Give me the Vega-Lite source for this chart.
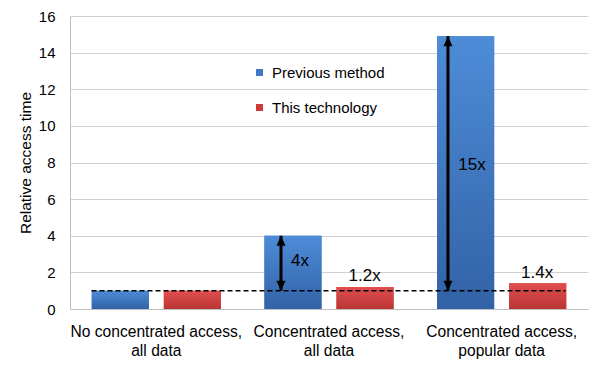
{
  "$schema": "https://vega.github.io/schema/vega-lite/v6.json",
  "width": 518,
  "height": 293,
  "autosize": "none",
  "padding": {"left": 70, "top": 16, "right": 12, "bottom": 71},
  "background": "white",
  "config": {"font": "Liberation Sans", "view": {"stroke": null}},
  "datasets": {
    "bars": [
      {"group": "No concentrated access,|all data", "series": "Previous method", "value": 1},
      {"group": "No concentrated access,|all data", "series": "This technology", "value": 1},
      {"group": "Concentrated access,|all data", "series": "Previous method", "value": 4},
      {"group": "Concentrated access,|all data", "series": "This technology", "value": 1.2},
      {"group": "Concentrated access,|popular data", "series": "Previous method", "value": 14.9},
      {"group": "Concentrated access,|popular data", "series": "This technology", "value": 1.4}
    ],
    "arrows": [
      {"pos": 1.222, "base": 1, "top": 4},
      {"pos": 2.189, "base": 1, "top": 14.9}
    ],
    "labels": [
      {"pos": 1.332, "y": 2.62, "text": "4x"},
      {"pos": 1.706, "y": 1.8, "text": "1.2x"},
      {"pos": 2.328, "y": 7.86, "text": "15x"},
      {"pos": 2.705, "y": 1.94, "text": "1.4x"}
    ],
    "baseline": [
      {"start": 0.1245, "end": 2.87, "y": 1}
    ]
  },
  "layer": [
    {
      "data": {"name": "bars"},
      "encoding": {
        "x": {
          "field": "group", "type": "nominal", "sort": null,
          "scale": {"paddingInner": 0.252, "paddingOuter": 0.126},
          "axis": {
            "title": null, "labelAngle": 0, "labelExpr": "split(datum.label, '|')",
            "labelFontSize": 15.6, "labelColor": "#000000", "labelPadding": 15,
            "labelLineHeight": 19, "labelLimit": 0, "ticks": false,
            "domainColor": "#BFBFBF", "labelBaseline": "top"
          }
        },
        "xOffset": {"field": "series", "type": "nominal", "scale": {"paddingInner": 0.208, "paddingOuter": 0}},
        "y": {
          "field": "value", "type": "quantitative",
          "scale": {"domain": [0, 16], "nice": false},
          "axis": {
            "title": "Relative access time", "titleFontSize": 15.5, "titleFontWeight": "normal",
            "titleColor": "#000000", "titlePadding": 5,
            "values": [0, 2, 4, 6, 8, 10, 12, 14, 16], "labelOverlap": false,
            "labelFontSize": 15, "labelColor": "#000000", "labelPadding": 15,
            "ticks": false, "gridColor": "#D0D0D0", "domainColor": "#BFBFBF"
          }
        }
      },
      "layer": [
        {
          "mark": {"type": "bar"},
          "encoding": {
            "color": {
              "field": "series", "type": "nominal",
              "scale": {"domain": ["Previous method", "This technology"], "range": ["#3F78C2", "#CC3B3B"]},
              "legend": {
                "title": null, "orient": "none", "legendX": 182, "legendY": 49,
                "symbolType": "square", "symbolSize": 49, "labelFontSize": 15,
                "labelColor": "#000000", "rowPadding": 19, "labelOffset": 5
              }
            }
          }
        },
        {
          "mark": {"type": "bar"},
          "encoding": {
            "fill": {
              "condition": {
                "test": "datum.series === 'Previous method'",
                "value": {"gradient": "linear", "x1": 0, "y1": 0, "x2": 0, "y2": 1,
                  "stops": [{"offset": 0, "color": "#4E8CD8"}, {"offset": 1, "color": "#3262A6"}]}
              },
              "value": {"gradient": "linear", "x1": 0, "y1": 0, "x2": 0, "y2": 1,
                "stops": [{"offset": 0, "color": "#E24F4F"}, {"offset": 1, "color": "#B93434"}]}
            }
          }
        }
      ]
    },
    {
      "layer": [
        {
          "data": {"name": "baseline"},
          "mark": {"type": "rule", "color": "#000000", "strokeWidth": 1.5, "strokeDash": [5, 3]},
          "encoding": {
            "x": {"field": "start", "type": "quantitative", "scale": {"domain": [0, 3], "nice": false, "zero": false}, "axis": null},
            "x2": {"field": "end"},
            "y": {"field": "y", "type": "quantitative", "axis": null}
          }
        },
        {
          "data": {"name": "arrows"},
          "mark": {"type": "rule", "color": "#000000", "strokeWidth": 3},
          "encoding": {
            "x": {"field": "pos", "type": "quantitative", "scale": {"domain": [0, 3], "nice": false, "zero": false}, "axis": null},
            "y": {"field": "base", "type": "quantitative", "axis": null},
            "y2": {"field": "top"}
          }
        },
        {
          "data": {"name": "arrows"},
          "mark": {"type": "point", "shape": "M0,0L-0.9,2L0.9,2Z", "size": 100, "filled": true, "color": "#000000", "opacity": 1},
          "encoding": {
            "x": {"field": "pos", "type": "quantitative", "scale": {"domain": [0, 3], "nice": false, "zero": false}, "axis": null},
            "y": {"field": "top", "type": "quantitative", "axis": null}
          }
        },
        {
          "data": {"name": "arrows"},
          "mark": {"type": "point", "shape": "M0,0L-0.9,-2L0.9,-2Z", "size": 100, "filled": true, "color": "#000000", "opacity": 1},
          "encoding": {
            "x": {"field": "pos", "type": "quantitative", "scale": {"domain": [0, 3], "nice": false, "zero": false}, "axis": null},
            "y": {"field": "base", "type": "quantitative", "axis": null}
          }
        },
        {
          "data": {"name": "labels"},
          "mark": {"type": "text", "fontSize": 17, "color": "#000000", "baseline": "middle", "align": "center"},
          "encoding": {
            "x": {"field": "pos", "type": "quantitative", "scale": {"domain": [0, 3], "nice": false, "zero": false}, "axis": null},
            "y": {"field": "y", "type": "quantitative", "axis": null},
            "text": {"field": "text"}
          }
        }
      ]
    }
  ],
  "resolve": {"scale": {"x": "independent"}, "axis": {"y": "independent"}}
}
